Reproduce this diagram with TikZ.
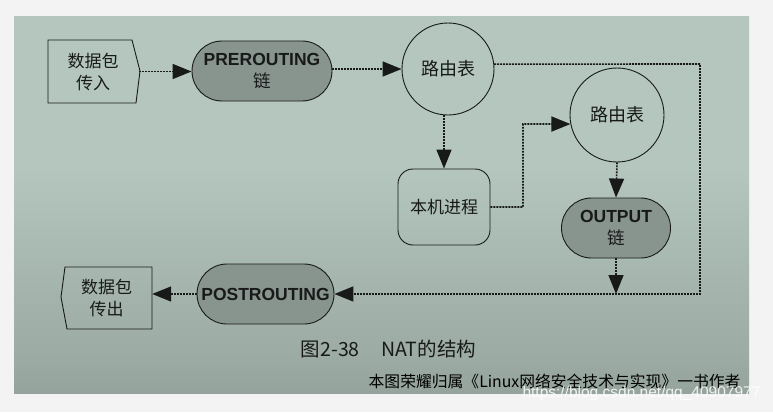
\documentclass[tikz,border=0pt]{standalone}
\usepackage{fontspec}
\setmainfont{Liberation Sans}
\newfontfamily\cjk{Noto Sans CJK SC}
\usetikzlibrary{arrows.meta}
\definecolor{pagebg}{RGB}{243,243,243}
\definecolor{phtop}{RGB}{166,186,177}
\definecolor{phmid}{RGB}{180,198,190}
\definecolor{phlow}{RGB}{156,171,164}
\definecolor{phbot}{RGB}{124,136,131}
\definecolor{pillfill}{RGB}{136,149,143}
\definecolor{ink}{RGB}{24,26,25}
\pgfdeclareverticalshading{photoshade}{100bp}{color(0bp)=(phbot); color(8bp)=(phbot); color(30bp)=(phlow); color(55bp)=(phmid); color(80bp)=(phmid); color(100bp)=(phtop)}
\begin{document}
\begin{tikzpicture}[x=1pt,y=-1pt,
  every node/.style={text=ink},
  line/.style={draw=ink, line width=0.9pt},
  flow/.style={draw=ink, line width=1.6pt, dash pattern=on 1.8pt off 1.2pt, -{Triangle[length=19pt,width=15pt]}},
  pill/.style={line, fill=pillfill, rounded corners=30pt, minimum height=60pt, inner sep=0pt, align=center, font=\fontsize{17.5}{22}\selectfont\bfseries},
  bubble/.style={line, circle, inner sep=0pt, font=\cjk\fontsize{18}{22}\selectfont},
  txtbox/.style={inner sep=0pt, align=center, font=\cjk\fontsize{17}{22}\selectfont},
  procbox/.style={line, rounded corners=15pt, inner sep=0pt, font=\cjk\fontsize{17}{22}\selectfont}
]
\useasboundingbox (0,0) rectangle (773,412);
\fill[pagebg] (0,0) rectangle (773,412);
\shade[shading=photoshade] (14,17) rectangle (749,393);

% input / output boxes
\path[line] (48,40) -- (132,40) -- (140,71) -- (136,103) -- (48,103) -- cycle;
\node[txtbox, minimum width=92pt, minimum height=63pt] (in) at (93,71.5) {数据包\\传入};
\path[line] (65,267) -- (152,267) -- (152,329) -- (67,329) -- (61,297) -- cycle;
\node[txtbox, minimum width=91pt, minimum height=62pt] (outb) at (106.5,298) {数据包\\传出};

% chains and tables
\node[pill, minimum width=140pt] (pre) at (262,71) {PREROUTING\\{\cjk\mdseries 链}};
\node[bubble, minimum size=92pt] (c1) at (448,69) {路由表};
\node[bubble, minimum size=94pt] (c2) at (617,115) {路由表};
\node[procbox, minimum width=92pt, minimum height=76pt] (local) at (444,207) {本机进程};
\node[pill, minimum width=109pt] (outc) at (616,228) {OUTPUT\\{\cjk\mdseries 链}};
\node[pill, minimum width=137pt] (post) at (265.5,294) {POSTROUTING};

% connectors
\coordinate (tr) at (700,64);
\coordinate (br) at (700,294);
\coordinate (j) at (523,124);
\coordinate (m) at (616,294);
\draw[flow] (in.east) -- (pre.west |- in.east);
\draw[flow] (pre.east |- c1) -- (c1.west);
\draw[flow] (c1.6) -- (tr) -- (br) -- (post.east);
\draw[flow] (local.north |- c1.south) -- (local.north);
\draw[flow] (local.east) -| (j) -- (c2.191);
\draw[flow] (c2.south) -- (outc.north);
\draw[flow] (outc.south) -- (m);
\draw[flow] (post.west) -- (post.west -| outb.east);

% captions
\node[font=\cjk\fontsize{19.5}{21}\selectfont] (cap) at (388.5,349) {图2-38\hspace{1.1em}NAT的结构};
\node[anchor=east, text=black, font=\cjk\fontsize{15.8}{18}\selectfont] (wm) at (744,381) {本图荣耀归属《Linux网络安全技术与实现》一书作者};
\node[anchor=west, text=white, opacity=0.85, font=\fontsize{15.5}{16}\selectfont] (url) at (519,393) {https://blog.csdn.net/qq\_40907977};
\end{tikzpicture}
\end{document}
